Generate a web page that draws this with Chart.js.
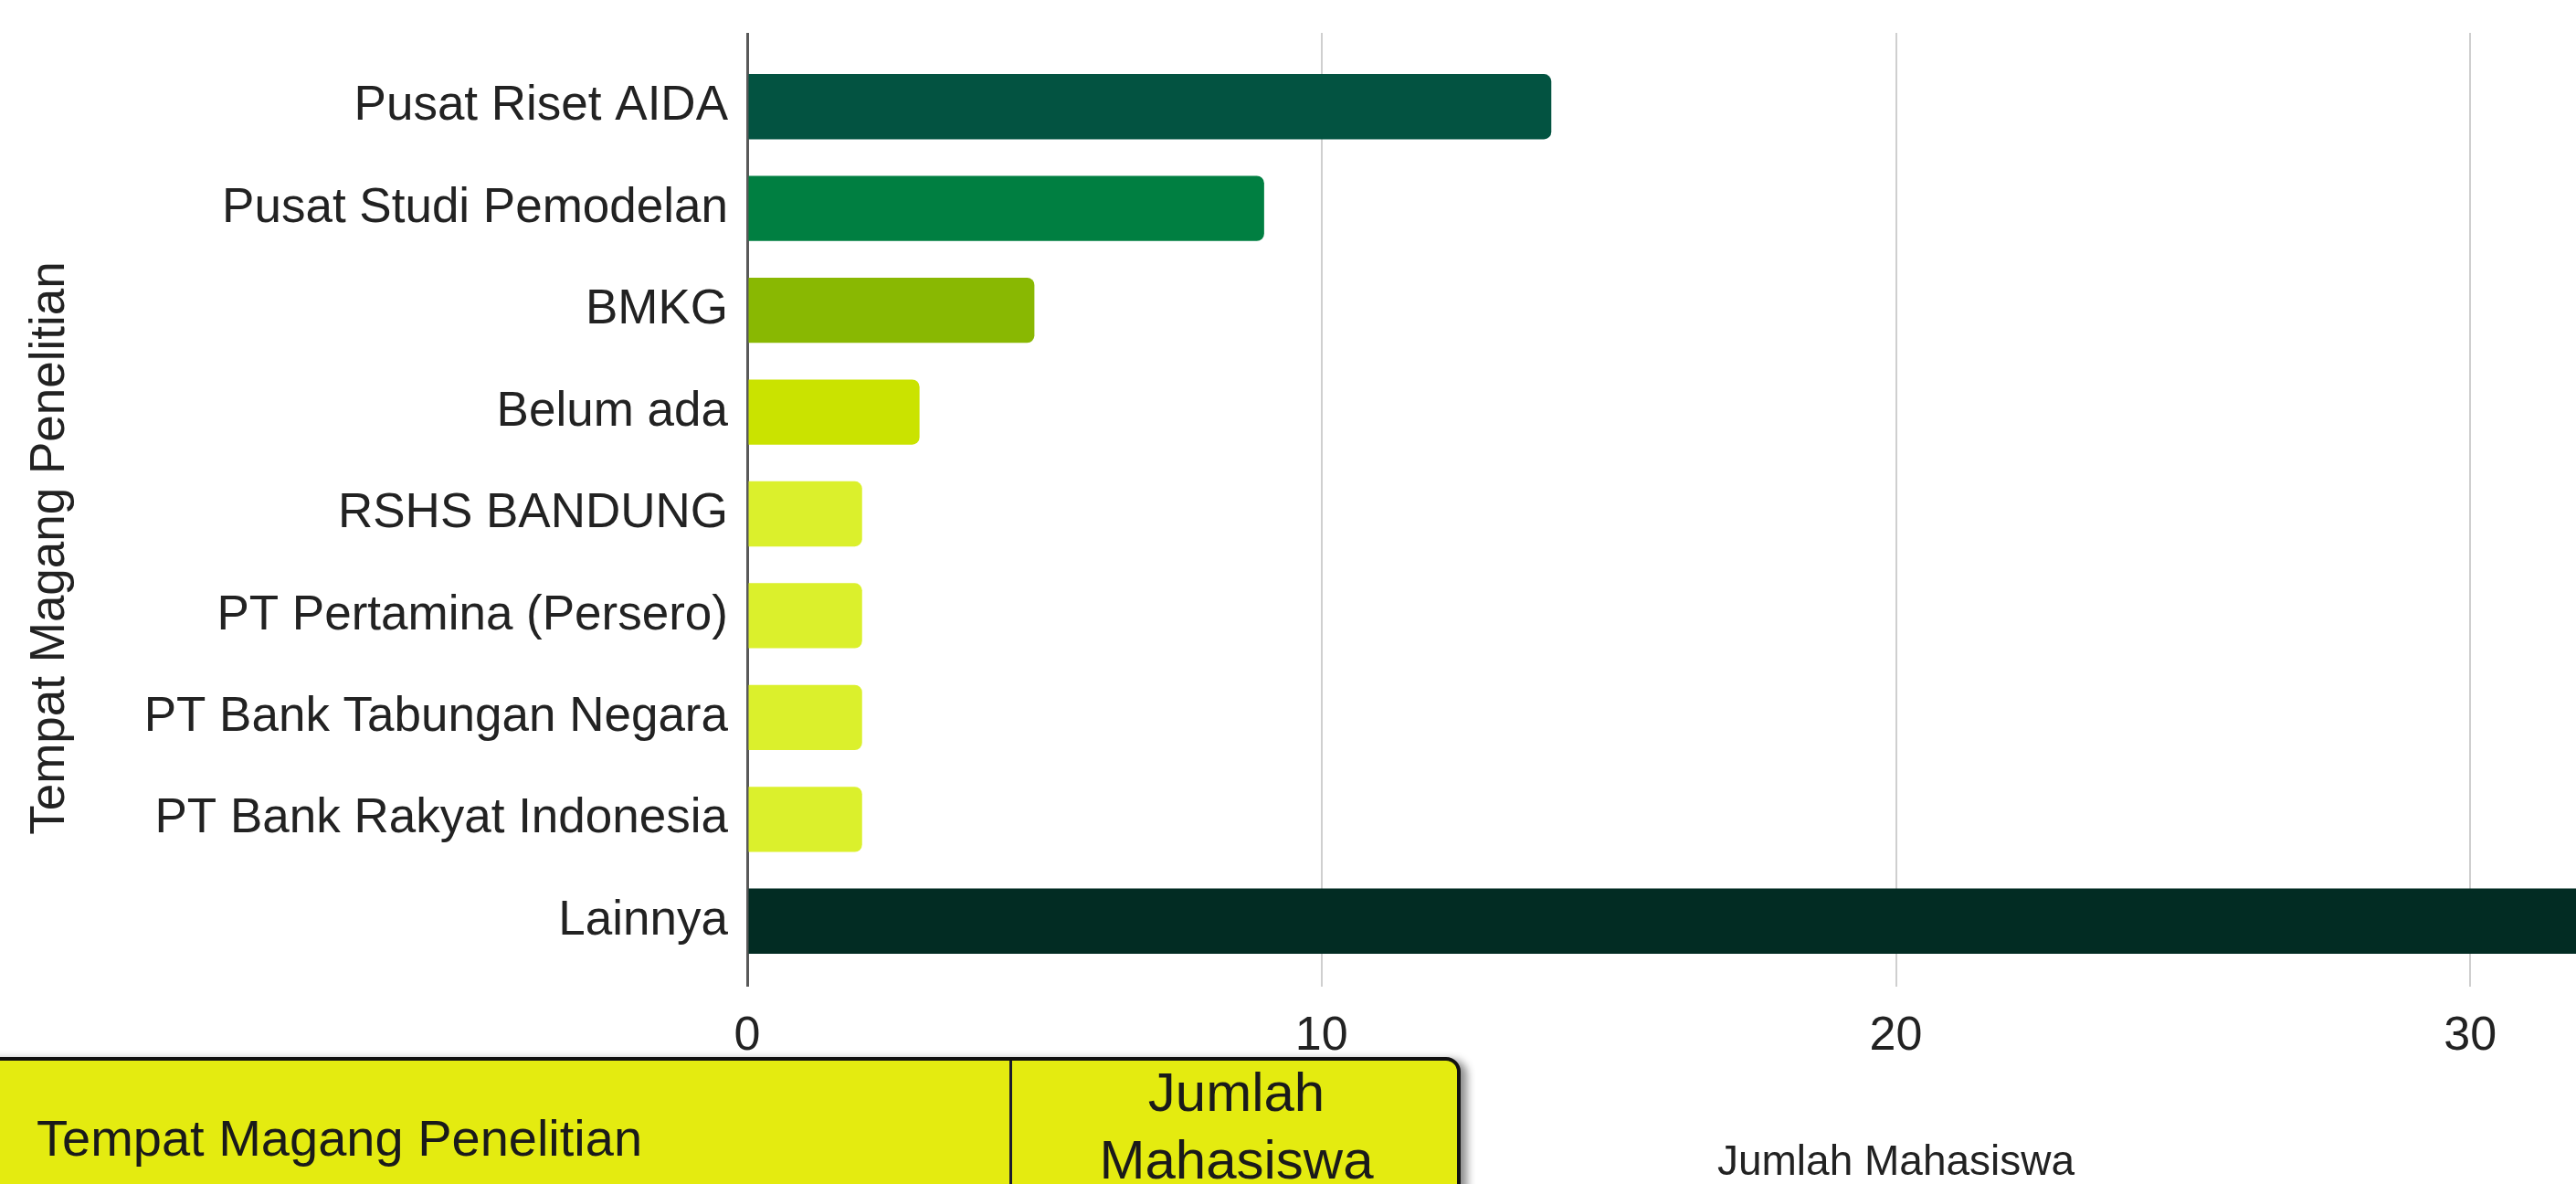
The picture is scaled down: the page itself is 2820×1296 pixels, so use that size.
<!DOCTYPE html>
<html lang="id">
<head>
<meta charset="UTF-8">
<title>Tempat Magang Penelitian</title>
<script src="https://cdn.jsdelivr.net/npm/chart.js"></script>
<style>
  html, body { margin: 0; padding: 0; width: 2820px; height: 1296px; overflow: hidden; background: #fff; }
  body { position: relative; font-family: "Liberation Sans", Arial, sans-serif; color: #1a1a1a; }
  #wrap { position: absolute; left: 0; top: 0; width: 3400px; height: 1301px; }
  .judul-y { position: absolute; left: -298px; top: 570px; width: 700px; height: 60px; line-height: 60px;
             text-align: center; font-size: 53px; color: #222; transform: rotate(-90deg); white-space: nowrap; }
  .tabel { position: absolute; left: -20px; top: 1157px; width: 1611px; height: 200px; background: #e4eb10;
           border: 4px solid #111; border-radius: 0 16px 0 0; box-shadow: 7px 3px 10px rgba(0,0,0,0.45); }
  .tabel .pemisah { position: absolute; left: 1121px; top: 0; width: 3px; height: 100%; background: #1b1b2e; }
  .tabel .sel1 { position: absolute; left: 56px; top: 51px; font-size: 56px; line-height: 68px; white-space: nowrap; }
  .tabel .sel2 { position: absolute; left: 1124px; top: -2px; width: 491px; text-align: center; font-size: 60px; line-height: 74px; }
</style>
</head>
<body>
<div id="wrap"><canvas id="grafik" width="3400" height="1301"></canvas></div>
<div class="judul-y">Tempat Magang Penelitian</div>
<div class="tabel">
  <div class="sel1">Tempat Magang Penelitian</div>
  <div class="pemisah"></div>
  <div class="sel2">Jumlah<br>Mahasiswa</div>
</div>
<script>
// data
const kategori = [
  'Pusat Riset AIDA',
  'Pusat Studi Pemodelan',
  'BMKG',
  'Belum ada',
  'RSHS BANDUNG',
  'PT Pertamina (Persero)',
  'PT Bank Tabungan Negara',
  'PT Bank Rakyat Indonesia',
  'Lainnya'
];
const jumlahMahasiswa = [14, 9, 5, 3, 2, 2, 2, 2, 35];
const warnaBatang = ['#035341', '#007f41', '#89b802', '#cae300', '#dbf02c', '#dbf02c', '#dbf02c', '#dbf02c', '#022c23'];
const sumbuMin = 0;
const sumbuMax = 40;
const langkahTick = 10;

Chart.defaults.font.family = '"Liberation Sans", Arial, sans-serif';
Chart.defaults.color = '#222';

// garis nol lebih gelap, grid lain abu-abu muda
const warnaGrid = (c) => (c.tick && c.tick.value === 0) ? '#595959' : '#cfcfcf';
const tebalGrid = (c) => (c.tick && c.tick.value === 0) ? 3 : 2;

new Chart(document.getElementById('grafik'), {
  type: 'bar',
  data: {
    labels: kategori,
    datasets: [{
      label: 'Jumlah Mahasiswa',
      data: jumlahMahasiswa,
      backgroundColor: warnaBatang,
      borderRadius: 8,
      borderSkipped: 'start',
      categoryPercentage: 1,
      barPercentage: 0.64
    }]
  },
  options: {
    indexAxis: 'y',
    responsive: false,
    animation: false,
    layout: { padding: { top: 36, right: 67, bottom: 0, left: 0 } },
    plugins: { legend: { display: false }, tooltip: { enabled: false } },
    scales: {
      x: {
        position: 'bottom',
        min: sumbuMin, max: sumbuMax,
        ticks: { stepSize: langkahTick, font: { size: 52 }, padding: 23, color: '#222' },
        grid: { color: warnaGrid, lineWidth: tebalGrid, tickLength: 16, drawTicks: true },
        border: { display: false },
        title: { display: true, text: 'Jumlah Mahasiswa', font: { size: 46 }, color: '#222', padding: 0 },
        afterFit: (skala) => { skala.height = 237; }
      },
      // sumbu bantu di atas supaya garis grid menjulur sedikit di atas batang pertama
      xAtas: {
        position: 'top',
        axis: 'x',
        min: sumbuMin, max: sumbuMax,
        ticks: { stepSize: langkahTick, display: false },
        grid: { color: warnaGrid, lineWidth: tebalGrid, tickLength: 25, drawTicks: true, drawOnChartArea: false },
        border: { display: false }
      },
      y: {
        ticks: { font: { size: 53 }, padding: 21, color: '#222' },
        grid: { display: false, drawTicks: false },
        border: { display: false },
        afterFit: (skala) => { skala.width = 818; }
      }
    }
  }
});
</script>
</body>
</html>
